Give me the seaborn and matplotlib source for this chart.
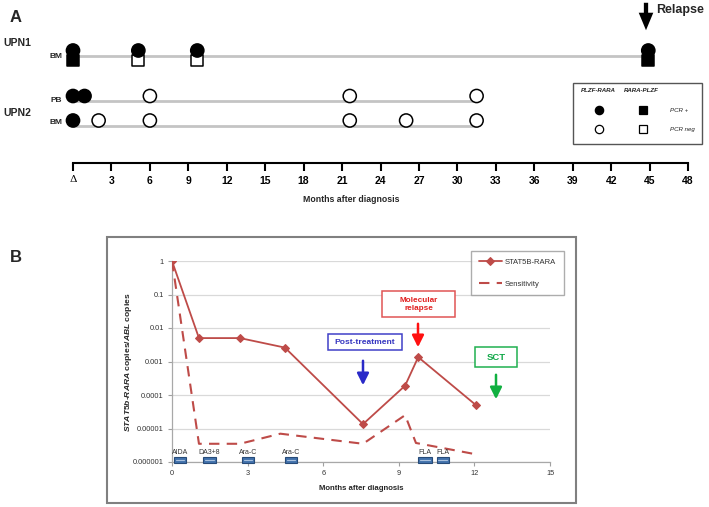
import matplotlib
matplotlib.use("Agg")
import matplotlib.pyplot as plt
import numpy as np
import pandas as pd
import seaborn as sns
from matplotlib.patches import Rectangle, FancyArrowPatch
from matplotlib.lines import Line2D
from matplotlib.ticker import NullLocator

# ---------------- Panel A data ----------------
month_ticks = list(range(0, 49, 3))
upn1_bm_months = [0, 5.1, 9.7, 44.9]
upn1_bm_plzf_rara = ["pos", "pos", "pos", "pos"]
upn1_bm_rara_plzf = ["pos", "neg", "neg", "pos"]
upn2_pb_months = [0, 0.9, 6.0, 21.6, 31.5]
upn2_pb_plzf_rara = ["pos", "pos", "neg", "neg", "neg"]
upn2_bm_months = [0, 2.0, 6.0, 21.6, 26.0, 31.5]
upn2_bm_plzf_rara = ["pos", "neg", "neg", "neg", "neg", "neg"]
legend_a_rows = ["PCR +", "PCR neg"]

# ---------------- Panel B data ----------------
stat5b_months = [0, 1.07, 2.7, 4.48, 7.58, 9.25, 9.77, 12.06]
stat5b_ratio = [1, 5e-3, 5e-3, 2.6e-3, 1.35e-5, 1.9e-4, 1.35e-3, 5e-5]
sens_months = [0, 1.07, 2.7, 4.3, 7.58, 9.25, 9.68, 12.06]
sens_ratio = [1, 3.5e-6, 3.5e-6, 7e-6, 3.5e-6, 2.5e-5, 3.7e-6, 1.7e-6]
treat_names = ["AIDA", "DA3+8", "Ara-C", "Ara-C", "FLA", "FLA"]
treat_start = [0.07, 1.23, 2.78, 4.5, 9.77, 10.5]
treat_end = [0.55, 1.75, 3.25, 4.96, 10.3, 11.0]
b_xticks = [0, 3, 6, 9, 12, 15]
b_yticks = [1e-6, 1e-5, 1e-4, 1e-3, 1e-2, 1e-1, 1]
b_yticklabels = ["0.000001", "0.00001", "0.0001", "0.001", "0.01", "0.1", "1"]

sns.set_theme(style="white")
plt.rcParams["font.family"] = ["Liberation Sans", "DejaVu Sans"]
plt.rcParams["mathtext.fontset"] = "custom"
plt.rcParams["mathtext.it"] = "Liberation Sans:italic:bold"
plt.rcParams["mathtext.rm"] = "Liberation Sans:bold"
plt.rcParams["mathtext.bf"] = "Liberation Sans:bold"

W, H = 709, 507
fig = plt.figure(figsize=(W / 100, H / 100), dpi=100)
fig.patch.set_facecolor("white")


def P(x, y):
    return (x / W, 1 - y / H)


# ================= Panel A =================
ax_a = fig.add_axes([73 / W, 1 - 163 / H, (688 - 73) / W, 163 / H])
ax_a.set_facecolor("none")
row_line = {"UPN1 BM": 55.5, "UPN2 PB": 101.0, "UPN2 BM": 125.5}
assay_off = {"PLZF-RARA": -5.0, "RARA-PLZF": 5.0}

recs = []
for m, a, b in zip(upn1_bm_months, upn1_bm_plzf_rara, upn1_bm_rara_plzf):
    recs.append(dict(month=m, row="UPN1 BM", assay="PLZF-RARA", status=a))
    recs.append(dict(month=m, row="UPN1 BM", assay="RARA-PLZF", status=b))
for m, a in zip(upn2_pb_months, upn2_pb_plzf_rara):
    recs.append(dict(month=m, row="UPN2 PB", assay="PLZF-RARA", status=a))
for m, a in zip(upn2_bm_months, upn2_bm_plzf_rara):
    recs.append(dict(month=m, row="UPN2 BM", assay="PLZF-RARA", status=a))
df = pd.DataFrame(recs)
df["y"] = df["row"].map(row_line) + df["assay"].map(assay_off)

for row, g in df.groupby("row"):
    ax_a.plot([0, g["month"].max()], [row_line[row]] * 2, color="#c4c4c4", lw=2, zorder=1,
              solid_capstyle="butt")

pal = {"pos": "black", "neg": "white"}
sns.scatterplot(data=df[df.assay == "RARA-PLZF"], x="month", y="y", hue="status", palette=pal,
                marker="s", s=72, edgecolor="black", linewidth=1.1, legend=False, ax=ax_a,
                clip_on=False, zorder=3)
sns.scatterplot(data=df[df.assay == "PLZF-RARA"], x="month", y="y", hue="status", palette=pal,
                marker="o", s=90, edgecolor="black", linewidth=1.1, legend=False, ax=ax_a,
                clip_on=False, zorder=4)

ax_a.set_xlim(0, 48)
ax_a.set_ylim(163, 0)
ax_a.set_xlabel("")
ax_a.set_ylabel("")
ax_a.set_yticks([])
ax_a.set_xticks(month_ticks)
ax_a.set_xticklabels(["Δ"] + [str(t) for t in month_ticks[1:]])
ax_a.tick_params(axis="x", direction="out", length=6, width=1.5, pad=3, labelsize=7.5,
                 colors="black", bottom=True)
for i, lbl in enumerate(ax_a.get_xticklabels()):
    if i == 0:
        lbl.set_fontfamily("DejaVu Serif")
        lbl.set_fontweight("normal")
    else:
        lbl.set_fontweight("bold")
for s in ["left", "top", "right"]:
    ax_a.spines[s].set_visible(False)
ax_a.spines["bottom"].set_color("black")
ax_a.spines["bottom"].set_linewidth(1.5)

fig.text(*P(10, 17), "A", fontsize=12, fontweight="bold", va="center", ha="left")
fig.text(*P(3, 43), "UPN1", fontsize=7.5, fontweight="bold", va="center", ha="left")
fig.text(*P(3, 113), "UPN2", fontsize=7.5, fontweight="bold", va="center", ha="left")
fig.text(*P(62, 56), "BM", fontsize=6, fontweight="bold", va="center", ha="right")
fig.text(*P(62, 100), "PB", fontsize=6, fontweight="bold", va="center", ha="right")
fig.text(*P(62, 123), "BM", fontsize=6, fontweight="bold", va="center", ha="right")
fig.text(*P(351, 200), "Months after diagnosis", fontsize=6.3, fontweight="bold",
         va="center", ha="center")

# Relapse arrow
fig.add_artist(FancyArrowPatch(P(646, 0), P(646, 33),
                               arrowstyle="simple,head_length=0.9,head_width=0.75,tail_width=0.22",
                               mutation_scale=14, color="black", lw=0))
fig.text(*P(656, 10), "Relapse", fontsize=9, fontweight="bold", va="center", ha="left")

# Legend A
fig.add_artist(Rectangle(P(573, 144), (702 - 573) / W, (144 - 83) / H, fill=False,
                         edgecolor="#555555", lw=1.0))
fig.text(*P(598, 90), "PLZF-RARA", fontsize=4.4, fontweight="bold", style="italic",
         ha="center", va="center", color="#222222")
fig.text(*P(641, 90), "RARA-PLZF", fontsize=4.4, fontweight="bold", style="italic",
         ha="center", va="center", color="#222222")
for lab, yy, fc in zip(legend_a_rows, [110, 129], ["black", "white"]):
    fig.add_artist(Line2D([P(599, yy)[0]], [P(599, yy)[1]], marker="o", ms=6,
                          mfc=fc, mec="black", mew=0.9, ls="none"))
    fig.add_artist(Line2D([P(643, yy)[0]], [P(643, yy)[1]], marker="s", ms=6,
                          mfc=fc, mec="black", mew=0.9, ls="none"))
    fig.text(*P(670, yy), lab, fontsize=4.4, style="italic", ha="left", va="center",
             color="#222222")

# ================= Panel B =================
fig.text(*P(10, 258), "B", fontsize=12, fontweight="bold", va="center", ha="left")
fig.add_artist(Rectangle(P(107, 503), (576 - 107) / W, (503 - 237) / H, fill=False,
                         edgecolor="#808080", lw=1.5))

red = "#BE4B48"
ax_b = fig.add_axes([172 / W, 1 - 462 / H, (550 - 172) / W, 201 / H])
ax_b.set_facecolor("none")
ax_b.set_yscale("log")
sns.lineplot(x=stat5b_months, y=stat5b_ratio, ax=ax_b, color=red, lw=1.3, marker="D",
             markersize=4.5, markeredgecolor=red, label="STAT5B-RARA", sort=False, zorder=4)
sns.lineplot(x=sens_months, y=sens_ratio, ax=ax_b, color=red, lw=1.5, label="Sensitivity",
             sort=False, zorder=3)
ax_b.get_lines()[1].set_dashes([5, 3.5])

ax_b.set_xlim(0, 15)
ax_b.set_ylim(1e-6, 1)
ax_b.set_xticks(b_xticks)
ax_b.set_xticklabels([str(t) for t in b_xticks])
ax_b.set_yticks(b_yticks)
ax_b.set_yticklabels(b_yticklabels)
ax_b.yaxis.set_minor_locator(NullLocator())
ax_b.tick_params(axis="both", direction="out", length=3, width=0.8, color="#a0a0a0",
                 labelsize=5.3, labelcolor="#333333", pad=3, left=True, bottom=True)
ax_b.yaxis.grid(True, color="#d9d9d9", lw=0.9)
ax_b.xaxis.grid(False)
ax_b.set_axisbelow(True)
for s in ["top", "right"]:
    ax_b.spines[s].set_visible(False)
for s in ["left", "bottom"]:
    ax_b.spines[s].set_color("#a8a8a8")
    ax_b.spines[s].set_linewidth(0.9)
ax_b.set_xlabel("")
ax_b.set_ylabel("")

h, l = ax_b.get_legend_handles_labels()
leg = ax_b.legend(h, l, loc="upper left", bbox_to_anchor=P(471, 251),
                  bbox_transform=fig.transFigure, borderaxespad=0, frameon=True,
                  fancybox=False, fontsize=5.5, handlelength=3.0, labelspacing=1.9,
                  borderpad=1.0, handletextpad=0.4, numpoints=1)
leg.get_frame().set_edgecolor("#999999")
leg.get_frame().set_linewidth(1.0)
for t in leg.get_texts():
    t.set_color("#333333")

# treatment bars
xt = ax_b.get_xaxis_transform()
for name, s0, e0 in zip(treat_names, treat_start, treat_end):
    ax_b.add_patch(Rectangle((s0, -0.004), e0 - s0, 0.03, transform=xt, facecolor="#4272AC",
                             edgecolor="#274B78", lw=0.8, clip_on=False, zorder=5))
    ax_b.plot([s0 + 0.15 * (e0 - s0), e0 - 0.15 * (e0 - s0)], [0.011, 0.011], transform=xt,
              color="#A9C1DE", lw=0.8, clip_on=False, zorder=6)
    ax_b.text((s0 + e0) / 2, 0.048, name, transform=xt, ha="center", va="center",
              fontsize=5, color="#333333")

fig.text(*P(128, 362), r"$STAT5b$-$RARA$ copies/$ABL$ copies", rotation=90, fontsize=6.1,
         fontweight="bold", ha="center", va="center")
fig.text(*P(361, 489), "Months after diagnosis", fontsize=5.6, fontweight="bold",
         ha="center", va="center")


def box(x0, y0, x1, y1, ec):
    fig.add_artist(Rectangle(P(x0, y1), (x1 - x0) / W, (y1 - y0) / H, facecolor="white",
                             edgecolor=ec, lw=1.1))


def arrow(x, y0, y1, c):
    fig.add_artist(FancyArrowPatch(P(x, y0), P(x, y1),
                                   arrowstyle="-|>,head_length=0.5,head_width=0.25",
                                   mutation_scale=14, color=c, lw=1.8))


box(328, 334, 402, 350, "#4040C8")
fig.text(*P(365, 342), "Post-treatment", fontsize=6.1, fontweight="bold", color="#3535C0",
         ha="center", va="center")
arrow(363, 358, 388, "#2A2AC8")

box(382, 291, 455, 317, "#E05555")
fig.text(*P(418.5, 304), "Molecular\nrelapse", fontsize=5.9, fontweight="bold", color="#E02020",
         ha="center", va="center", linespacing=1.2)
arrow(418, 321, 350, "#FF1010")

box(475, 347, 517, 367, "#20B050")
fig.text(*P(496, 357), "SCT", fontsize=6.8, fontweight="bold", color="#10A848",
         ha="center", va="center")
arrow(496, 372, 402, "#10B040")

fig.savefig("out.png", dpi=100, facecolor="white")
